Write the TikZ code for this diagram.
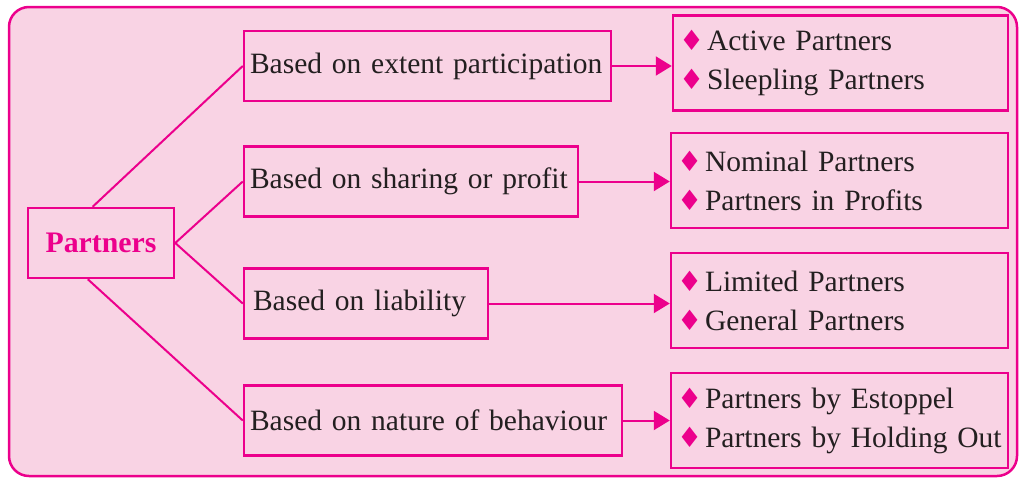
\documentclass[tikz,border=0pt]{standalone}
\usepackage{fontspec}
\setmainfont{Liberation Serif}
\newfontfamily\symfont{DejaVu Sans}
\usetikzlibrary{arrows.meta}
\definecolor{mag}{RGB}{236,0,140}
\definecolor{bgpink}{RGB}{249,211,228}
\definecolor{txt}{RGB}{35,31,32}
\newcommand{\bul}{\makebox[24pt][l]{\hspace{-4pt}{\symfont\fontsize{28}{28}\selectfont\color{mag}\char"2666}}}
\newcommand{\txtfont}{\fontsize{29.5}{39}\selectfont\spaceskip=6.3pt plus 2pt minus 1pt\relax}
\begin{document}
\begin{tikzpicture}[x=1pt,y=-1pt,
  frame/.style={draw=mag, line width=2.5pt},
  lbox/.style={frame, minimum height=70pt, inner xsep=6pt, align=left,
    font=\txtfont, text=txt},
  rbox/.style={frame, minimum height=95pt, inner xsep=10pt, align=left,
    font=\txtfont, text=txt},
  conn/.style={draw=mag, line width=2pt},
  arr/.style={conn, -{Triangle[length=16pt,width=19pt]}}]
\useasboundingbox (0,0) rectangle (1019,477);
\draw[frame, fill=bgpink, rounded corners=20pt] (9,7) rectangle (1017,476);
\node[frame, minimum width=146pt, minimum height=70pt,
  font=\bfseries\fontsize{29.8}{36}\selectfont, text=mag] (P) at (101,243) {Partners};
\node[lbox, text width=355pt] (b1) at (427.5,66) {\mbox{Based on extent participation}};
\node[lbox, text width=322pt] (b2) at (411,181.5) {\mbox{Based on sharing or profit}};
\node[lbox, inner xsep=9pt, text width=226pt] (b3) at (366,303.5) {\mbox{Based on liability}};
\node[lbox, text width=366pt] (b4) at (433,420.5) {\mbox{Based on nature of behaviour}};
\node[rbox, text width=315pt] (A) at (840.5,63) {\mbox{\bul Active Partners}\\\mbox{\bul Sleepling Partners}};
\node[rbox, text width=317pt] (B) at (839.5,180.5) {\mbox{\bul Nominal Partners}\\\mbox{\bul Partners in Profits}};
\node[rbox, text width=317pt] (C) at (839.5,300.5) {\mbox{\bul Limited Partners}\\\mbox{\bul General Partners}};
\node[rbox, text width=317pt] (D) at (839.5,420.5) {\mbox{\bul Partners by Estoppel}\\\mbox{\bul Partners by Holding Out}};
\draw[conn] (P.103) -- (b1.west);
\draw[conn] (P.east) -- (b2.west);
\draw[conn] (P.east) -- (b3.west);
\draw[conn] (P.250) -- (b4.west);
\draw[arr] (b1.east) -- (b1.east -| A.west);
\draw[arr] (b2.east) -- (b2.east -| B.west);
\draw[arr] (b3.east) -- (b3.east -| C.west);
\draw[arr] (b4.east) -- (b4.east -| D.west);
\end{tikzpicture}
\end{document}
